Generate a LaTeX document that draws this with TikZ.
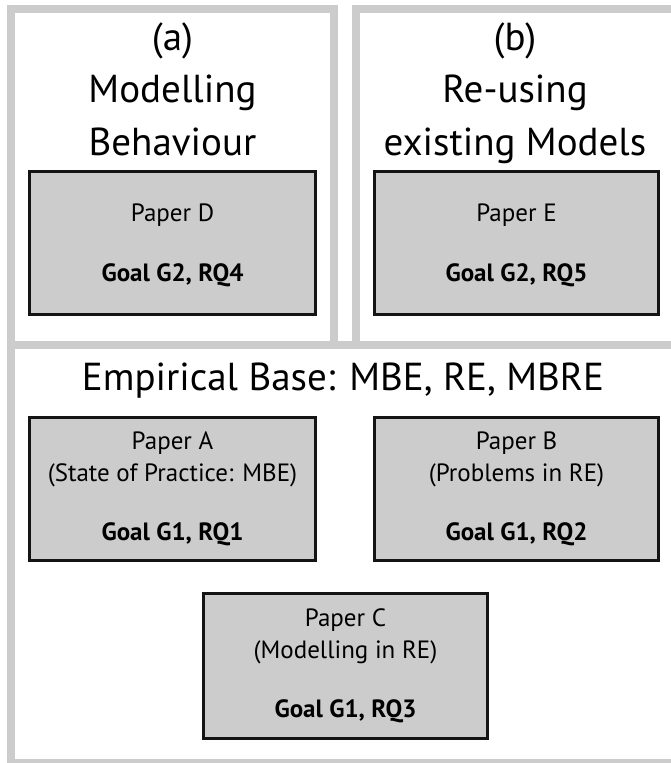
\documentclass[tikz,border=0pt]{standalone}
\usepackage{fontspec}
\setmainfont{PT Sans}
\definecolor{panelgray}{HTML}{CCCCCC}
\begin{document}
\begin{tikzpicture}[x=1pt,y=-1pt,
  panel/.style={draw=panelgray, line width=8pt},
  paper/.style={draw=black!92, fill=panelgray, line width=3pt, inner sep=0pt},
  bigtxt/.style={font=\fontsize{39}{46}\selectfont, inner sep=0pt, anchor=base},
  smalltxt/.style={font=\fontsize{25}{30}\selectfont, inner sep=0pt, anchor=base},
  boldtxt/.style={font=\fontsize{25}{30}\selectfont\bfseries, inner sep=0pt, anchor=base}]
\useasboundingbox (0,0) rectangle (671,763);
\clip (0,0) rectangle (671,763);
\fill[white] (0,0) rectangle (671,763);

% panels
\draw[panel] (11,345) rectangle (676,763);
\draw[panel] (11,9) rectangle (334,345);
\draw[panel] (356,9) rectangle (676,345);

% papers
\node[paper, minimum width=286pt, minimum height=143pt] (pD) at (172.5,243) {};
\node[paper, minimum width=284pt, minimum height=143pt] (pE) at (516.5,243) {};
\node[paper, minimum width=286pt, minimum height=143pt] (pA) at (172.5,489) {};
\node[paper, minimum width=284pt, minimum height=143pt] (pB) at (516.5,489) {};
\node[paper, minimum width=284pt, minimum height=145pt] (pC) at (345.5,666) {};

% top texts
\node[bigtxt] (ta1) at (172.5,50) {(a)};
\node[bigtxt] (ta2) at (172.5,102) {Modelling};
\node[bigtxt] (ta3) at (172.5,155) {Behaviour};
\node[bigtxt] (tb1) at (515,50) {(b)};
\node[bigtxt] (tb2) at (515,102) {Re-using};
\node[bigtxt] (tb3) at (515,155) {existing Models};
\node[bigtxt] (tc) at (343,390) {Empirical Base: MBE, RE, MBRE};

% paper texts
\node[smalltxt] (pDt) at (pD.center |- 0,221) {Paper D};
\node[boldtxt] (pDg) at (pD.center |- 0,281) {Goal G2, RQ4};
\node[smalltxt] (pEt) at (pE.center |- 0,221) {Paper E};
\node[boldtxt] (pEg) at (pE.center |- 0,281) {Goal G2, RQ5};
\node[smalltxt] (pAt) at (pA.center |- 0,449) {Paper A};
\node[smalltxt] (pAs) at (pA.center |- 0,481) {(State of Practice: MBE)};
\node[boldtxt] (pAg) at (pA.center |- 0,540) {Goal G1, RQ1};
\node[smalltxt] (pBt) at (pB.center |- 0,449) {Paper B};
\node[smalltxt] (pBs) at (pB.center |- 0,481) {(Problems in RE)};
\node[boldtxt] (pBg) at (pB.center |- 0,540) {Goal G1, RQ2};
\node[smalltxt] (pCt) at (pC.center |- 0,626) {Paper C};
\node[smalltxt] (pCs) at (pC.center |- 0,658) {(Modelling in RE)};
\node[boldtxt] (pCg) at (pC.center |- 0,717) {Goal G1, RQ3};
\end{tikzpicture}
\end{document}
